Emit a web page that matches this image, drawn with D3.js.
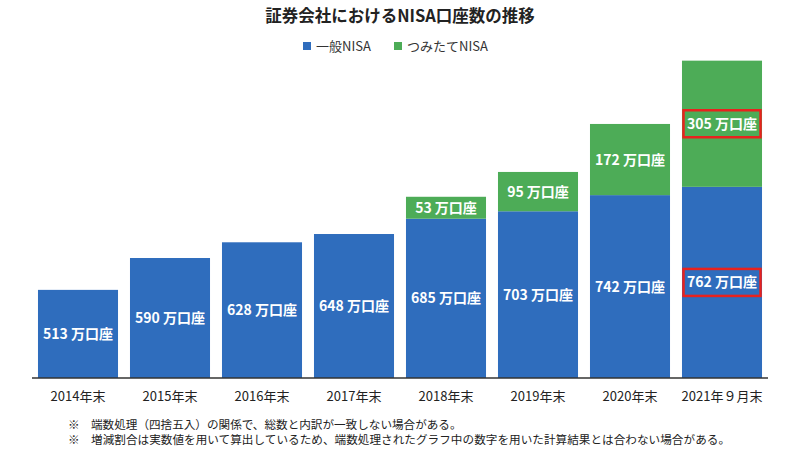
<!DOCTYPE html>
<html><head><meta charset="utf-8">
<script src="https://cdn.jsdelivr.net/npm/d3@7"></script>
<style>body{margin:0;background:#fff}svg{display:block}text{font-family:"Noto Sans CJK JP","Noto Sans",sans-serif}</style>
</head><body><svg id="c" width="800" height="450"></svg>
<script>
const categories = ["2014年末","2015年末","2016年末","2017年末","2018年末","2019年末","2020年末","2021年９月末"];
const general = [513,590,628,648,685,703,742,762];
const tsumitate = [0,0,0,0,53,95,172,305];
const seriesNames = ["一般NISA","つみたてNISA"];
const highlightIndex = 7;
const notes = ["端数処理（四捨五入）の関係で、総数と内訳が一致しない場合がある。","増減割合は実数値を用いて算出しているため、端数処理されたグラフ中の数字を用いた計算結果とは合わない場合がある。"];
const colors = ["#2f6dbd","#4dac57"];

const svg = d3.select("#c");
const x = d3.scaleBand().domain(categories).range([32,768]).paddingInner(0.13).paddingOuter(0.065);
const y = d3.scaleLinear().domain([300,1100]).range([378,47]);

svg.append("text").attr("x",400).attr("y",22).attr("text-anchor","middle")
  .attr("font-size",16.5).attr("font-weight","bold").attr("fill","#222").text("証券会社におけるNISA口座数の推移");

const leg = svg.append("g");
const legX = [303,394];
seriesNames.forEach((n,i)=>{
  leg.append("rect").attr("x",legX[i]).attr("y",42).attr("width",8).attr("height",8).attr("fill",colors[i]);
  leg.append("text").attr("x",legX[i]+13).attr("y",50.5).attr("font-size",13).attr("fill","#333").text(n);
});

const data = categories.map((c,i)=>({c, g:general[i], t:tsumitate[i], i}));
const g = svg.append("g");
data.forEach(d=>{
  const bx = x(d.c), bw = x.bandwidth();
  g.append("rect").attr("x",bx).attr("y",y(d.g)).attr("width",bw).attr("height",y(300)-y(d.g)).attr("fill",colors[0]);
  const cy1 = (y(d.g)+y(300))/2;
  g.append("text").attr("x",bx+bw/2).attr("y",cy1+5).attr("text-anchor","middle").attr("font-size",14).attr("font-weight","bold").attr("fill","#fff").text(d.g+" 万口座");
  if(d.i===highlightIndex){
    g.append("rect").attr("x",bx+1.5).attr("y",cy1-13.5).attr("width",bw-3).attr("height",27).attr("fill","none").attr("stroke","#e8221e").attr("stroke-width",2.5);
  }
  if(d.t>0){
    const top = y(d.g+d.t);
    g.append("rect").attr("x",bx).attr("y",top).attr("width",bw).attr("height",y(d.g)-top).attr("fill",colors[1]);
    const cy2 = (top+y(d.g))/2;
    g.append("text").attr("x",bx+bw/2).attr("y",cy2+5).attr("text-anchor","middle").attr("font-size",14).attr("font-weight","bold").attr("fill","#fff").text(d.t+" 万口座");
    if(d.i===highlightIndex){
      g.append("rect").attr("x",bx+1.5).attr("y",cy2-13.5).attr("width",bw-3).attr("height",27).attr("fill","none").attr("stroke","#e8221e").attr("stroke-width",2.5);
    }
  }
});

const ax = svg.append("g").attr("transform","translate(0,378)").call(d3.axisBottom(x).tickSize(0).tickPadding(14));
ax.select(".domain").attr("stroke","#333").attr("stroke-width",1.5).attr("d","M32,0H768");
ax.selectAll("text").attr("font-size",13).attr("fill","#222").style("font-family",'"Noto Sans CJK JP",sans-serif');

notes.forEach((n,i)=>{
  svg.append("text").attr("x",68).attr("y",429+i*15).attr("font-size",11.6).attr("fill","#222").text("※");
  svg.append("text").attr("x",91).attr("y",429+i*15).attr("font-size",11.6).attr("fill","#222").attr("textLength",i===1?639:null).attr("lengthAdjust","spacing").text(n);
});
</script></body></html>
